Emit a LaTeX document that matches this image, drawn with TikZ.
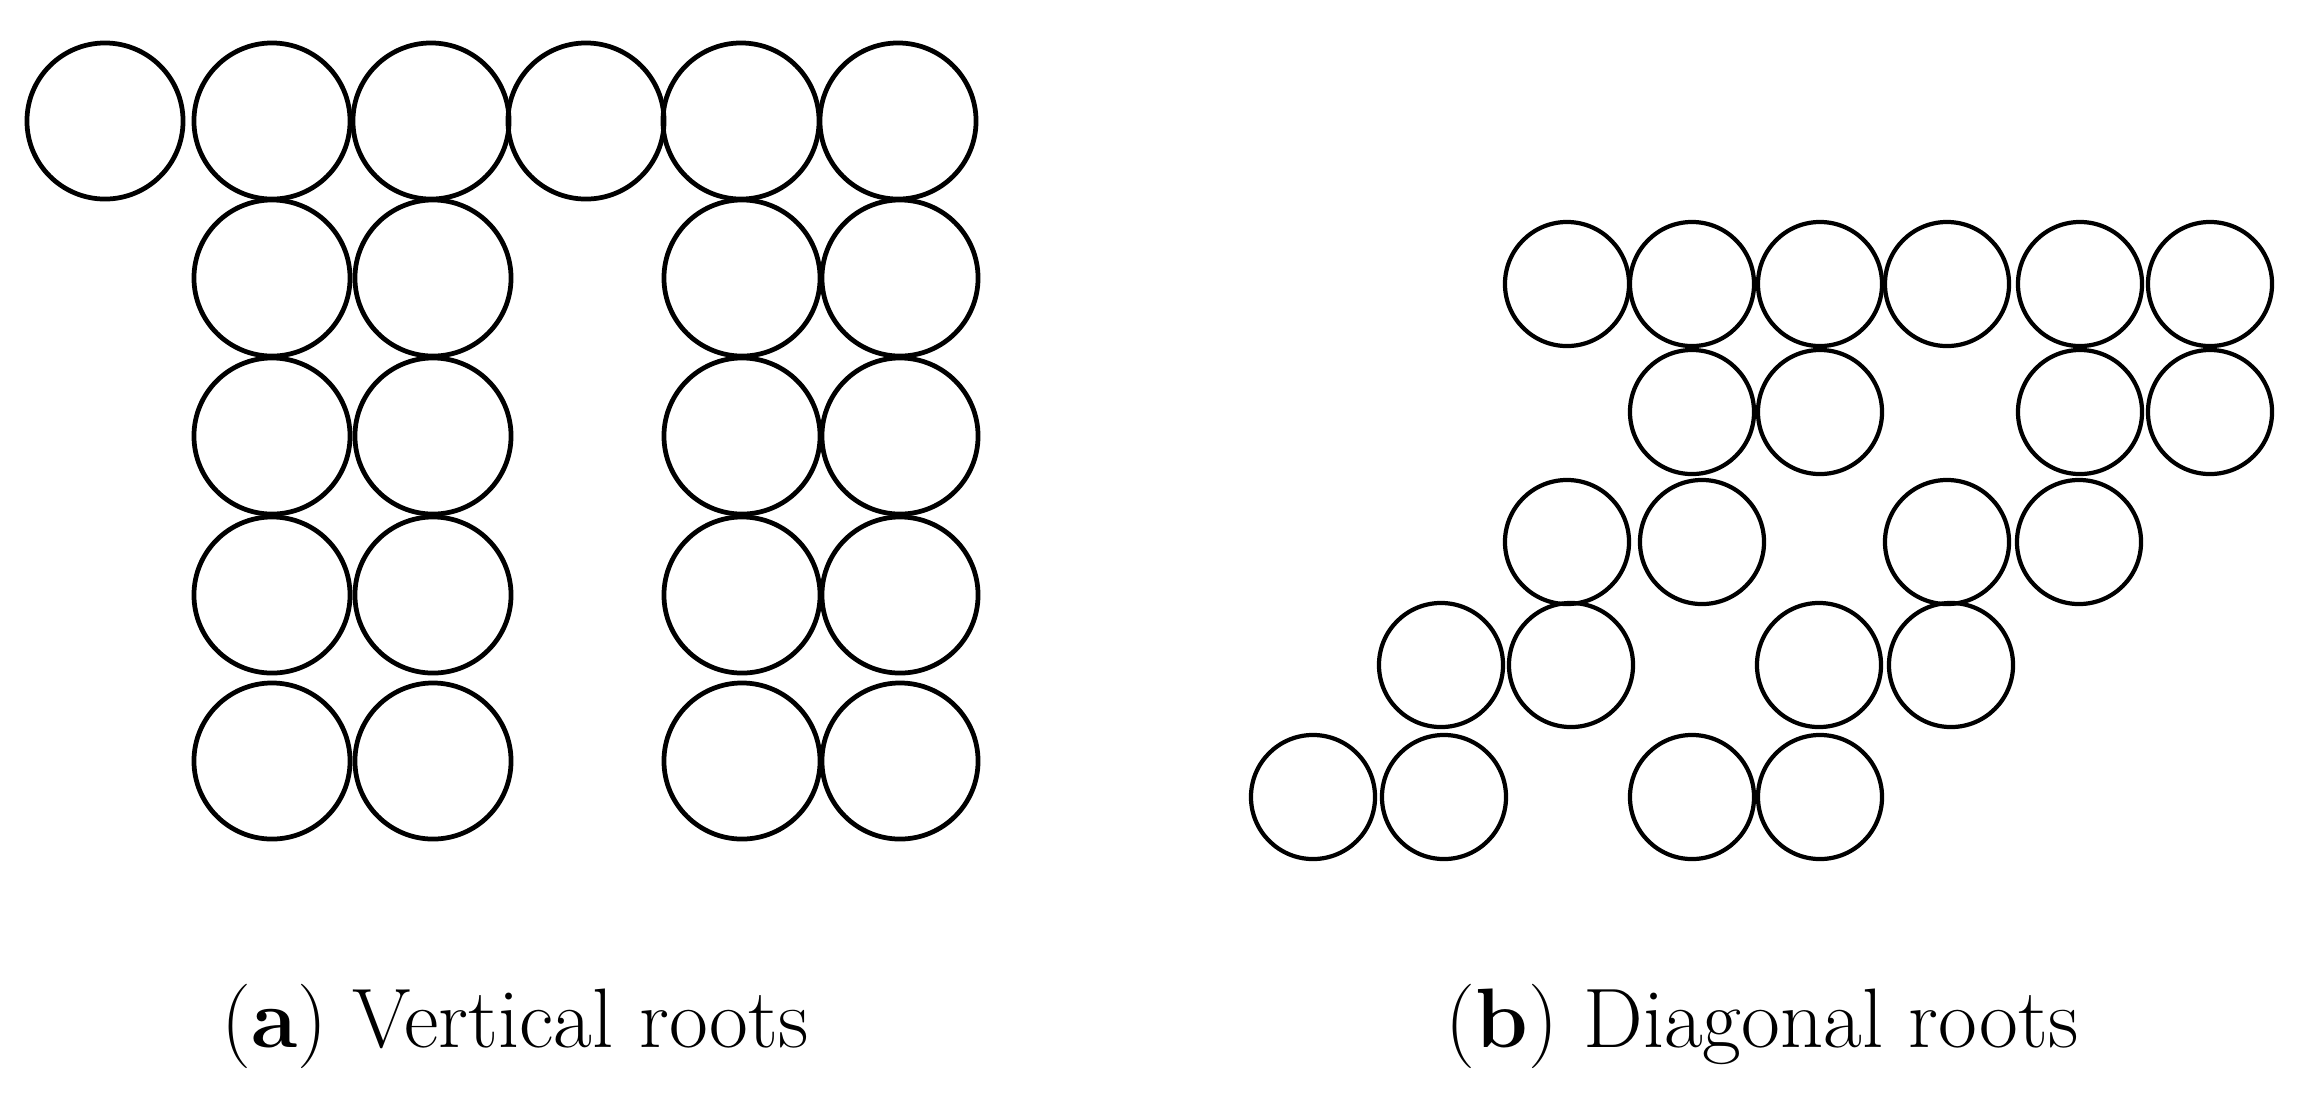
\documentclass[tikz,border=0pt]{standalone}
\usepackage{tikz}
\tikzset{v/.style={circle,draw=black,line width=1.35pt,minimum size=1.56cm,inner sep=0},
         d/.style={circle,draw=black,line width=1.2pt,minimum size=1.24cm,inner sep=0},
         l/.style={font=\fontsize{24}{29}\selectfont,anchor=base}}

\begin{document}
\begin{tikzpicture}[x=0.01cm,y=-0.01cm]
  \useasboundingbox (0,0) rectangle (2300,1096);
  % vertical roots
  \foreach \x [count=\i] in {105,272,431,586,741,898} \node[v] (t\i) at (\x,121) {};
  \foreach \y [count=\j] in {278,436,595,761}
    \foreach \x [count=\i] in {272,433,742,900} \node[v] (v\j\i) at (\x,\y) {};
  % diagonal roots
  \foreach \x [count=\i] in {1567,1692,1820,1947,2080,2210} \node[d] (a\i) at (\x,284) {};
  \foreach \x [count=\i] in {1692,1820,2080,2210} \node[d] (b\i) at (\x,412) {};
  \foreach \x [count=\i] in {1567,1702,1947,2079} \node[d] (c\i) at (\x,542) {};
  \foreach \x [count=\i] in {1441,1571,1819,1951} \node[d] (e\i) at (\x,665) {};
  \foreach \x [count=\i] in {1313,1444,1692,1820} \node[d] (f\i) at (\x,797) {};
  \node[l] (capa) at (515,1047) {(\textbf{a}) Vertical roots};
  \node[l] (capb) at (1762,1047) {(\textbf{b}) Diagonal roots};
\end{tikzpicture}
\end{document}
